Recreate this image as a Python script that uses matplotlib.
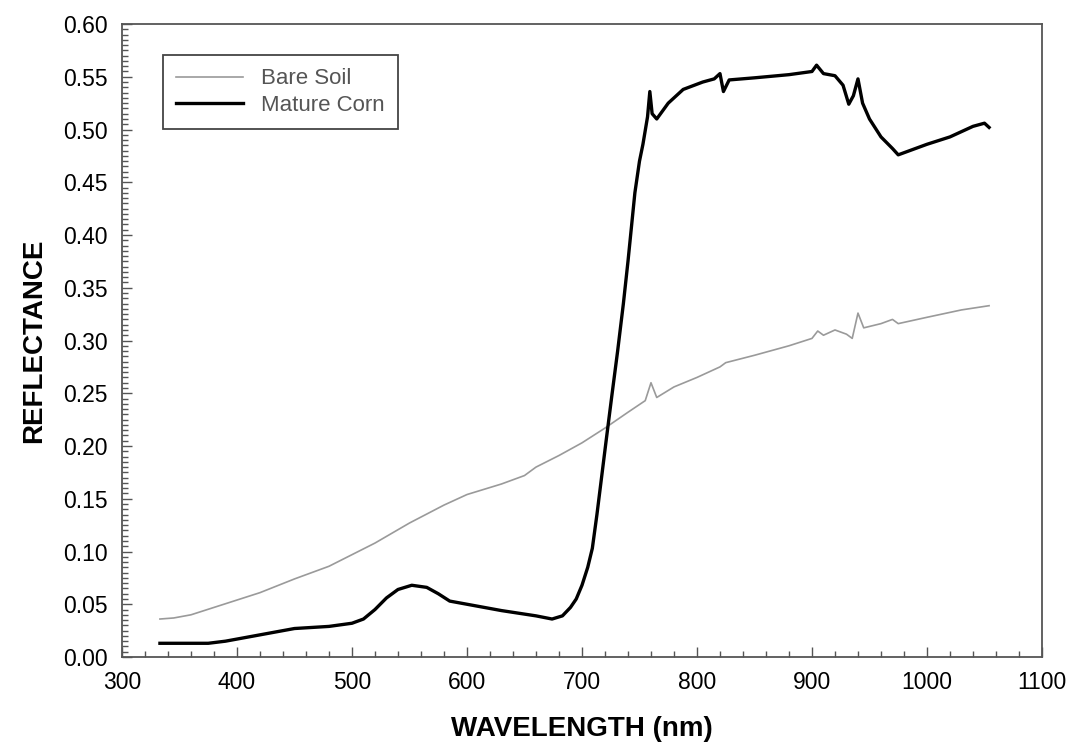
import matplotlib.pyplot as plt
from matplotlib.ticker import MultipleLocator

plt.rcParams['font.family'] = ['Liberation Sans', 'DejaVu Sans']

# wavelength (nm) / reflectance
soil_wl = [333, 345, 360, 380, 400, 420, 450, 480, 500, 520, 550, 580, 600, 630,
           650, 660, 680, 700, 720, 740, 755, 760, 765, 780, 800, 820, 825, 850,
           880, 900, 905, 910, 920, 930, 935, 940, 945, 960, 970, 975, 1000, 1030, 1054]
soil_r = [0.036, 0.037, 0.040, 0.047, 0.054, 0.061, 0.074, 0.086, 0.097, 0.108,
          0.127, 0.144, 0.154, 0.164, 0.172, 0.180, 0.191, 0.203, 0.217, 0.232,
          0.243, 0.260, 0.246, 0.256, 0.265, 0.275, 0.279, 0.286, 0.295, 0.302,
          0.309, 0.305, 0.310, 0.306, 0.302, 0.326, 0.312, 0.316, 0.320, 0.316,
          0.322, 0.329, 0.333]

corn_wl = [333, 350, 375, 390, 400, 420, 450, 480, 500, 510, 520, 530, 540, 552,
           565, 575, 585, 600, 630, 660, 674, 683, 690, 695, 700, 705, 709, 713,
           717, 721, 726, 731, 736, 740, 746, 750, 753, 757, 759, 761, 765, 775,
           788, 805, 815, 820, 823, 828, 850, 880, 900, 904, 910, 920, 927, 932,
           936, 940, 944, 950, 960, 970, 975, 985, 1000, 1020, 1040, 1050, 1054]
corn_r = [0.013, 0.013, 0.013, 0.015, 0.017, 0.021, 0.027, 0.029, 0.032, 0.036,
          0.045, 0.056, 0.064, 0.068, 0.066, 0.060, 0.053, 0.050, 0.044, 0.039,
          0.036, 0.039, 0.047, 0.055, 0.068, 0.085, 0.103, 0.135, 0.170, 0.205,
          0.248, 0.290, 0.335, 0.375, 0.440, 0.470, 0.486, 0.512, 0.536, 0.515,
          0.510, 0.525, 0.538, 0.545, 0.548, 0.553, 0.536, 0.547, 0.549, 0.552,
          0.555, 0.561, 0.553, 0.551, 0.542, 0.524, 0.532, 0.548, 0.525, 0.510,
          0.493, 0.482, 0.476, 0.480, 0.486, 0.493, 0.503, 0.506, 0.502]

labels = ['Bare Soil', 'Mature Corn']

fig = plt.figure(figsize=(10.71, 7.46), dpi=100)
ax = fig.add_axes([0.1139, 0.1193, 0.859, 0.8485])

ax.plot(soil_wl, soil_r, color='#9a9a9a', lw=1.2, label=labels[0])
ax.plot(corn_wl, corn_r, color='black', lw=2.4, label=labels[1],
        solid_joinstyle='round')

ax.set_xlim(300, 1100)
ax.set_ylim(0, 0.60)
ax.xaxis.set_major_locator(MultipleLocator(100))
ax.xaxis.set_minor_locator(MultipleLocator(20))
ax.yaxis.set_major_locator(MultipleLocator(0.05))
ax.yaxis.set_minor_locator(MultipleLocator(0.005))
ax.yaxis.set_major_formatter(plt.FormatStrFormatter('%.2f'))

ax.tick_params(which='both', direction='in', top=False, right=False,
               color='#555555', width=1.0)
ax.tick_params(which='major', length=7, labelsize=16.5, pad=10)
ax.tick_params(which='minor', length=4)
for s in ax.spines.values():
    s.set_color('#555555')
    s.set_linewidth(1.3)

ax.set_xlabel('WAVELENGTH (nm)', fontsize=20, fontweight='bold', labelpad=16)
ax.set_ylabel('REFLECTANCE', fontsize=20, fontweight='bold', labelpad=12)

leg = ax.legend(loc='upper left', bbox_to_anchor=(0.0446, 0.951),
                borderaxespad=0, fontsize=16, fancybox=False, framealpha=1,
                edgecolor='#444444', handlelength=3.0, handletextpad=0.8,
                borderpad=0.6, labelspacing=0.25)
leg.get_frame().set_linewidth(1.3)
for t in leg.get_texts():
    t.set_color('#555555')

fig.savefig('out.png', dpi=100)
